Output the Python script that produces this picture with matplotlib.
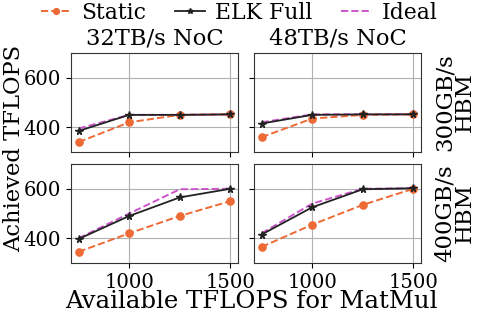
import matplotlib
matplotlib.use("Agg")
import matplotlib.pyplot as plt
from matplotlib.font_manager import FontProperties

plt.rcParams['font.family'] = ['DejaVu Serif']

x_tflops = [750, 1000, 1250, 1500]
col_titles = ["32TB/s NoC", "48TB/s NoC"]
row_labels = ["300GB/s\nHBM", "400GB/s\nHBM"]

# [row][col]
static_vals = [
    [[340, 420, 450, 452], [360, 435, 450, 452]],
    [[345, 420, 490, 550], [365, 455, 535, 600]],
]
elk_vals = [
    [[385, 450, 450, 452], [415, 450, 452, 452]],
    [[397, 490, 565, 600], [415, 525, 598, 602]],
]
ideal_vals = [
    [[395, 450, 450, 452], [420, 452, 452, 453]],
    [[400, 500, 598, 600], [420, 540, 600, 602]],
]

c_static = "#EE6A35"
c_elk = "#222222"
c_ideal = "#CC55CC"

W, H = 478, 314
fig = plt.figure(figsize=(W/100, H/100), dpi=100)
renderer = fig.canvas.get_renderer()

def fit(text, px):
    w, h, d = renderer.get_text_width_height_descent(
        text, FontProperties(family='DejaVu Serif', size=10), ismath=False)
    return 10.0 * px / w

fs_title = fit("32TB/s NoC", 137)
fs_tick = (fit("1000", 50) + fit("600", 37)) / 2
fs_xlab = fit("Available TFLOPS for MatMul", 372)
fs_ylab = fit("Achieved TFLOPS", 207)
fs_row = fit("300GB/s", 97)
fs_leg = fit("Static", 65)

lefts = [71/W, 254/W]
width = 167/W
bottoms = [1-152/H, 1-263/H]
height = 99/H

axes = [[None, None], [None, None]]
for r in range(2):
    for c in range(2):
        ax = fig.add_axes([lefts[c], bottoms[r], width, height])
        axes[r][c] = ax
        ax.plot(x_tflops, ideal_vals[r][c], color=c_ideal, ls='--', lw=1.4, label="Ideal", zorder=2)
        ax.plot(x_tflops, static_vals[r][c], color=c_static, ls='--', lw=1.4, marker='o', ms=5.2,
                label="Static", zorder=3)
        ax.plot(x_tflops, elk_vals[r][c], color=c_elk, ls='-', lw=1.3, marker='*', ms=5.5,
                label="ELK Full", zorder=4)
        ax.set_ylim(300, 700)
        ax.set_yticks([400, 600])
        ax.set_xticks([1000, 1500])
        ax.grid(True, color='#b0b0b0', lw=0.8)
        ax.tick_params(labelsize=fs_tick)
        for s in ax.spines.values():
            s.set_color('#333333')
        if c == 1:
            ax.set_yticklabels([])
            fig.text(434/W, bottoms[r] + height/2, row_labels[r], rotation=90,
                     fontsize=fs_row, ha='left', va='center', multialignment='center',
                     linespacing=0.85)
        if r == 0:
            ax.set_xticklabels([])
            ax.set_title(col_titles[c], fontsize=fs_title, pad=6)

fig.text(3/W, 1 - 148.5/H, "Achieved TFLOPS", rotation=90,
         fontsize=fs_ylab, ha='left', va='center')
fig.text(251/W, 1 - 308/H, "Available TFLOPS for MatMul",
         fontsize=fs_xlab, ha='center', va='baseline')

h, l = axes[0][0].get_legend_handles_labels()
order = [1, 2, 0]
fig.legend([h[i] for i in order], [l[i] for i in order], loc='center',
           bbox_to_anchor=(0.5, 1 - 13/H), ncol=3, frameon=False, fontsize=fs_leg,
           handlelength=1.4, columnspacing=1.3, handletextpad=0.45, markerscale=0.8,
           borderpad=0.0, borderaxespad=0.0)

fig.savefig("out.png", dpi=100)
